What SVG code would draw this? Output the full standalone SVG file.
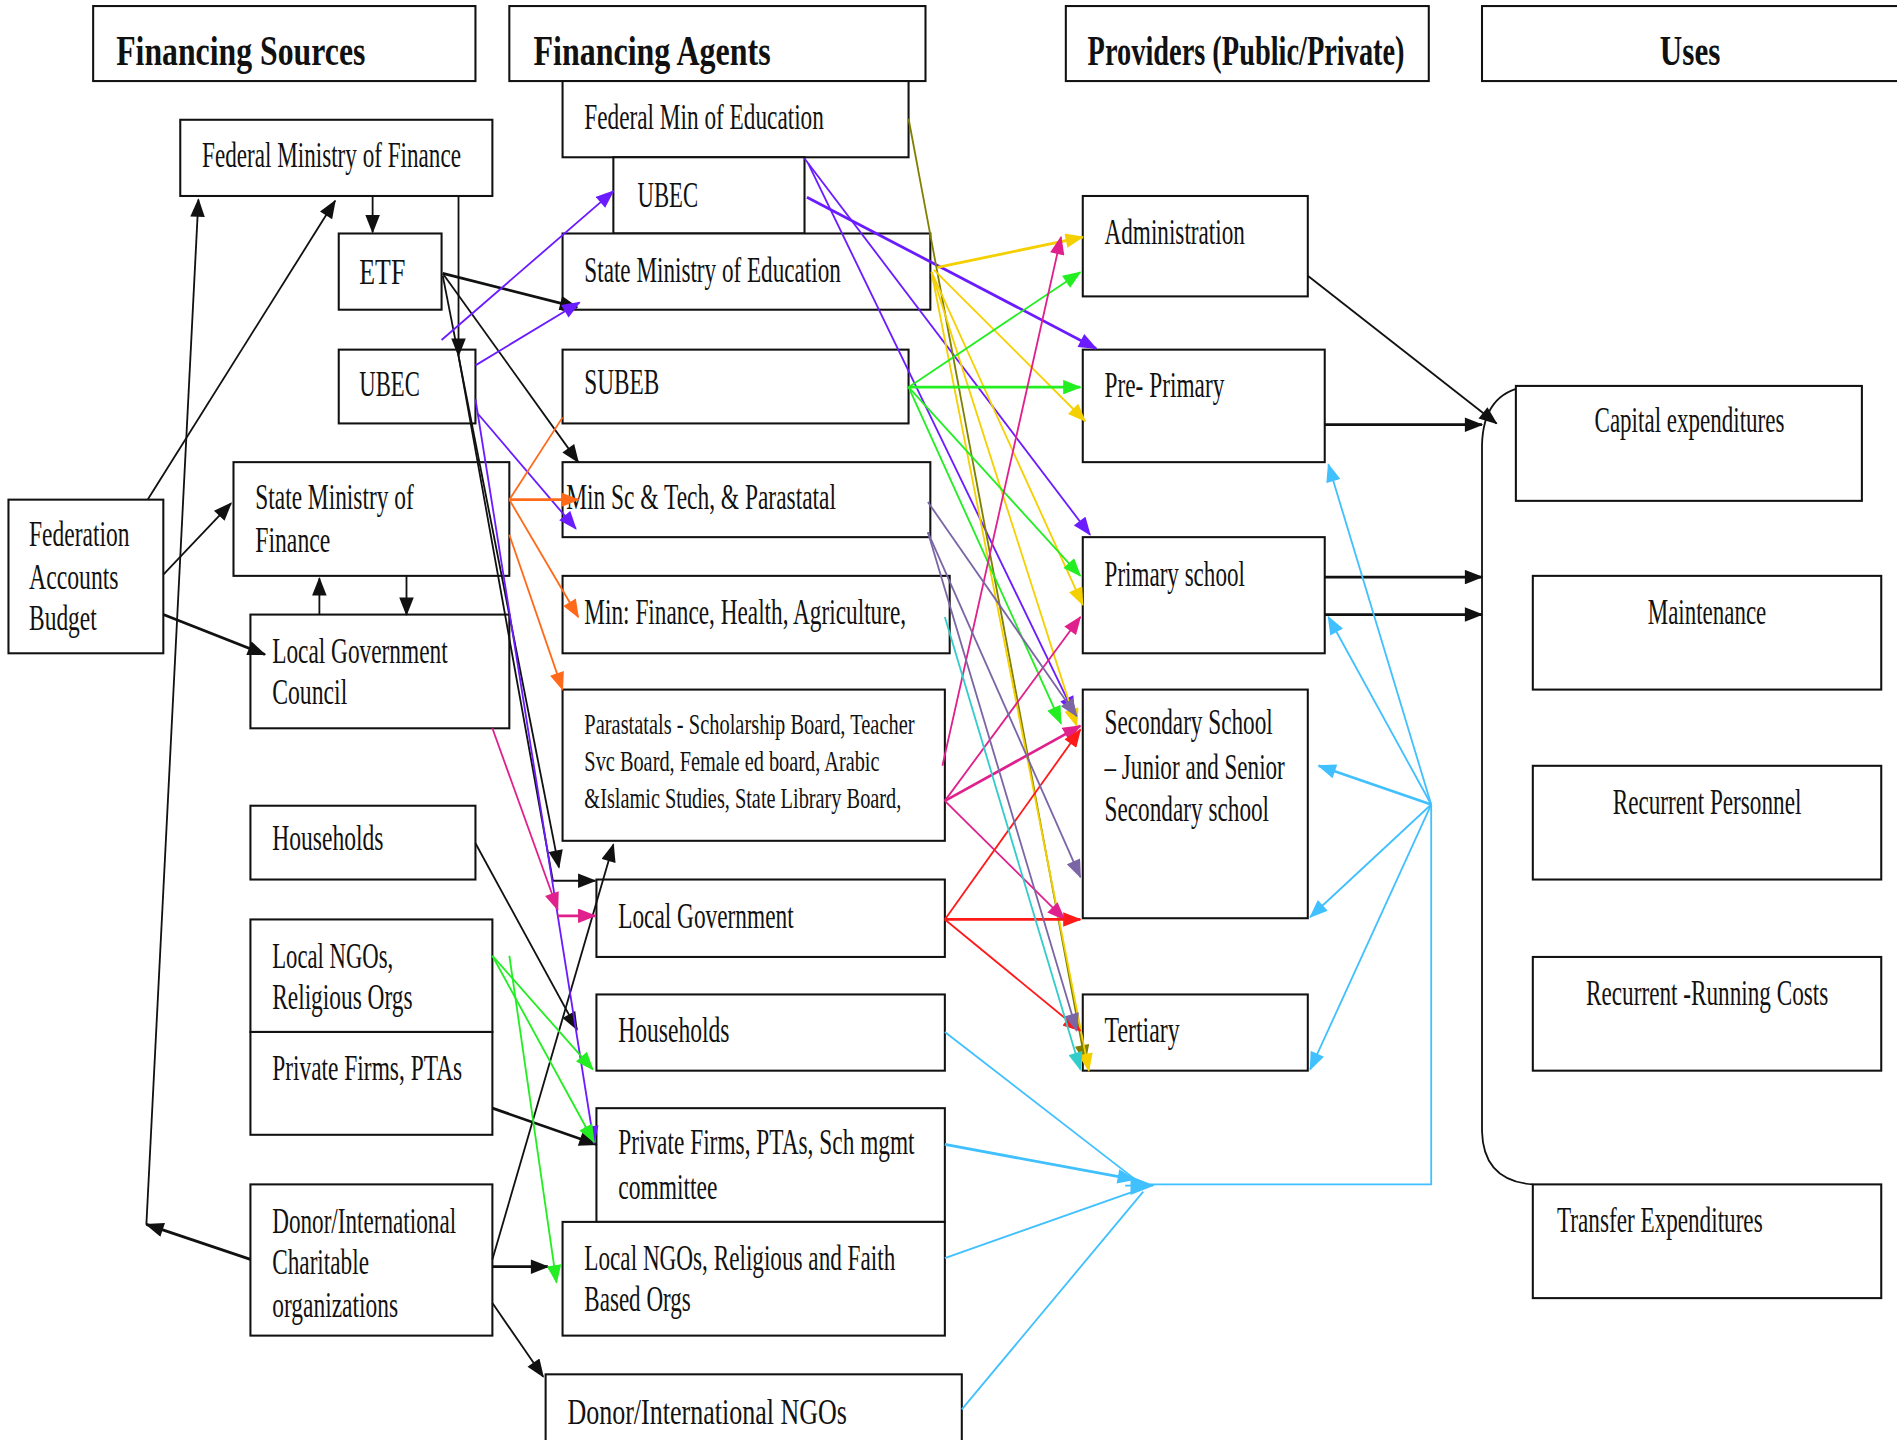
<svg xmlns="http://www.w3.org/2000/svg" width="1897" height="1440" viewBox="0 0 1897 1440">
<style>
.box{fill:#fff;stroke:#111;stroke-width:1.7}
.t{font-family:"Liberation Serif","Times New Roman",serif;font-size:29px;fill:#111}
.s{font-size:25px}
.h{font-weight:bold;font-size:34px}
.c{fill:none;stroke-width:1.5}
.k{stroke:#111;marker-end:url(#aK)}
.p{stroke:#6A1BFF;marker-end:url(#aP)}
.y{stroke:#F5D000;marker-end:url(#aY)}
.g{stroke:#22EE22;marker-end:url(#aG)}
.o{stroke:#FF6A1A;marker-end:url(#aO)}
.m{stroke:#E0208C;marker-end:url(#aM)}
.r{stroke:#FF1A1A;marker-end:url(#aR)}
.v{stroke:#7A65A5;marker-end:url(#aV)}
.tl{stroke:#33CCCC;marker-end:url(#aT)}
.b{stroke:#40C0FF;marker-end:url(#aB)}
.ol{stroke:#7F7F00;marker-end:url(#aOl)}
.w{stroke-width:2.3}
</style>
<defs>
<marker id="aK" viewBox="0 0 14 11" refX="13" refY="5.5" markerWidth="16" markerHeight="12" markerUnits="userSpaceOnUse" orient="auto"><path d="M0,0 L14,5.5 L0,11 z" fill="#111"/></marker>
<marker id="aP" viewBox="0 0 14 11" refX="13" refY="5.5" markerWidth="16" markerHeight="12" markerUnits="userSpaceOnUse" orient="auto"><path d="M0,0 L14,5.5 L0,11 z" fill="#6A1BFF"/></marker>
<marker id="aY" viewBox="0 0 14 11" refX="13" refY="5.5" markerWidth="16" markerHeight="12" markerUnits="userSpaceOnUse" orient="auto"><path d="M0,0 L14,5.5 L0,11 z" fill="#F5D000"/></marker>
<marker id="aG" viewBox="0 0 14 11" refX="13" refY="5.5" markerWidth="16" markerHeight="12" markerUnits="userSpaceOnUse" orient="auto"><path d="M0,0 L14,5.5 L0,11 z" fill="#22EE22"/></marker>
<marker id="aO" viewBox="0 0 14 11" refX="13" refY="5.5" markerWidth="16" markerHeight="12" markerUnits="userSpaceOnUse" orient="auto"><path d="M0,0 L14,5.5 L0,11 z" fill="#FF6A1A"/></marker>
<marker id="aM" viewBox="0 0 14 11" refX="13" refY="5.5" markerWidth="16" markerHeight="12" markerUnits="userSpaceOnUse" orient="auto"><path d="M0,0 L14,5.5 L0,11 z" fill="#E0208C"/></marker>
<marker id="aR" viewBox="0 0 14 11" refX="13" refY="5.5" markerWidth="16" markerHeight="12" markerUnits="userSpaceOnUse" orient="auto"><path d="M0,0 L14,5.5 L0,11 z" fill="#FF1A1A"/></marker>
<marker id="aV" viewBox="0 0 14 11" refX="13" refY="5.5" markerWidth="16" markerHeight="12" markerUnits="userSpaceOnUse" orient="auto"><path d="M0,0 L14,5.5 L0,11 z" fill="#7A65A5"/></marker>
<marker id="aT" viewBox="0 0 14 11" refX="13" refY="5.5" markerWidth="16" markerHeight="12" markerUnits="userSpaceOnUse" orient="auto"><path d="M0,0 L14,5.5 L0,11 z" fill="#33CCCC"/></marker>
<marker id="aB" viewBox="0 0 14 11" refX="13" refY="5.5" markerWidth="16" markerHeight="12" markerUnits="userSpaceOnUse" orient="auto"><path d="M0,0 L14,5.5 L0,11 z" fill="#40C0FF"/></marker>
<marker id="aBL" viewBox="0 0 14 11" refX="13" refY="5.5" markerWidth="20" markerHeight="20" markerUnits="userSpaceOnUse" orient="auto"><path d="M0,0 L14,5.5 L0,11 z" fill="#40C0FF"/></marker>
<marker id="aOl" viewBox="0 0 14 11" refX="13" refY="5.5" markerWidth="16" markerHeight="12" markerUnits="userSpaceOnUse" orient="auto"><path d="M0,0 L14,5.5 L0,11 z" fill="#7F7F00"/></marker>
</defs>
<rect width="1897" height="1440" fill="#fff"/>
<g transform="scale(1.2098)">
<g id="headers">
<g id="hdr-sources"><rect class="box" x="77" y="5" width="316" height="62"/><text class="t h" x="96" y="54" textLength="206" lengthAdjust="spacingAndGlyphs">Financing Sources</text></g>
<g id="hdr-agents"><rect class="box" x="421" y="5" width="344" height="62"/><text class="t h" x="441" y="54" textLength="196" lengthAdjust="spacingAndGlyphs">Financing Agents</text></g>
<g id="hdr-providers"><rect class="box" x="881" y="5" width="300" height="62"/><text class="t h" x="899" y="54" textLength="262" lengthAdjust="spacingAndGlyphs">Providers (Public/Private)</text></g>
<g id="hdr-uses"><rect class="box" x="1225" y="5" width="360" height="62"/><text class="t h" x="1372" y="54" textLength="50" lengthAdjust="spacingAndGlyphs">Uses</text></g>
</g>
<g id="sources">
<g id="s-fmf"><rect class="box" x="149" y="99" width="258" height="63"/><text class="t" x="167" y="138" textLength="214" lengthAdjust="spacingAndGlyphs">Federal Ministry of Finance</text></g>
<g id="s-etf"><rect class="box" x="280" y="193" width="85" height="63"/><text class="t" x="297" y="235" textLength="38" lengthAdjust="spacingAndGlyphs">ETF</text></g>
<g id="s-ubec"><rect class="box" x="280" y="289" width="113" height="61"/><text class="t" x="297" y="327" textLength="50" lengthAdjust="spacingAndGlyphs">UBEC</text></g>
<g id="s-fab"><rect class="box" x="7" y="413" width="128" height="127"/><text class="t" x="24" y="451" textLength="83" lengthAdjust="spacingAndGlyphs">Federation</text><text class="t" x="24" y="487" textLength="74" lengthAdjust="spacingAndGlyphs">Accounts</text><text class="t" x="24" y="521" textLength="56" lengthAdjust="spacingAndGlyphs">Budget</text></g>
<g id="s-smf"><rect class="box" x="193" y="382" width="228" height="94"/><text class="t" x="211" y="421" textLength="131" lengthAdjust="spacingAndGlyphs">State Ministry of</text><text class="t" x="211" y="456" textLength="62" lengthAdjust="spacingAndGlyphs">Finance</text></g>
<g id="s-lgc"><rect class="box" x="207" y="508" width="214" height="94"/><text class="t" x="225" y="548" textLength="145" lengthAdjust="spacingAndGlyphs">Local Government</text><text class="t" x="225" y="582" textLength="62" lengthAdjust="spacingAndGlyphs">Council</text></g>
<g id="s-households"><rect class="box" x="207" y="666" width="186" height="61"/><text class="t" x="225" y="703" textLength="92" lengthAdjust="spacingAndGlyphs">Households</text></g>
<g id="s-ngos"><rect class="box" x="207" y="760" width="200" height="93"/><text class="t" x="225" y="800" textLength="100" lengthAdjust="spacingAndGlyphs">Local NGOs,</text><text class="t" x="225" y="834" textLength="116" lengthAdjust="spacingAndGlyphs">Religious Orgs</text></g>
<g id="s-private"><rect class="box" x="207" y="853" width="200" height="85"/><text class="t" x="225" y="893" textLength="157" lengthAdjust="spacingAndGlyphs">Private Firms, PTAs</text></g>
<g id="s-donor"><rect class="box" x="207" y="979" width="200" height="125"/><text class="t" x="225" y="1019" textLength="152" lengthAdjust="spacingAndGlyphs">Donor/International</text><text class="t" x="225" y="1053" textLength="80" lengthAdjust="spacingAndGlyphs">Charitable</text><text class="t" x="225" y="1089" textLength="104" lengthAdjust="spacingAndGlyphs">organizations</text></g>
</g>
<g id="agents">
<g id="a-fme"><rect class="box" x="465" y="67" width="286" height="63"/><text class="t" x="483" y="107" textLength="198" lengthAdjust="spacingAndGlyphs">Federal Min of Education</text></g>
<g id="a-ubec"><rect class="box" x="507" y="130" width="158" height="63"/><text class="t" x="527" y="171" textLength="50" lengthAdjust="spacingAndGlyphs">UBEC</text></g>
<g id="a-sme"><rect class="box" x="465" y="193" width="304" height="63"/><text class="t" x="483" y="233" textLength="212" lengthAdjust="spacingAndGlyphs">State Ministry of Education</text></g>
<g id="a-subeb"><rect class="box" x="465" y="289" width="286" height="61"/><text class="t" x="483" y="326" textLength="62" lengthAdjust="spacingAndGlyphs">SUBEB</text></g>
<g id="a-minsc"><rect class="box" x="465" y="382" width="304" height="62"/><text class="t" x="468" y="421" textLength="223" lengthAdjust="spacingAndGlyphs">Min Sc &amp; Tech, &amp; Parastatal</text></g>
<g id="a-minfin"><rect class="box" x="465" y="476" width="320" height="64"/><text class="t" x="483" y="516" textLength="266" lengthAdjust="spacingAndGlyphs">Min: Finance, Health, Agriculture,</text></g>
<g id="a-para"><rect class="box" x="465" y="570" width="316" height="125"/><text class="t s" x="483" y="607" textLength="273" lengthAdjust="spacingAndGlyphs">Parastatals - Scholarship Board, Teacher</text><text class="t s" x="483" y="637" textLength="244" lengthAdjust="spacingAndGlyphs">Svc Board, Female ed board, Arabic</text><text class="t s" x="483" y="668" textLength="262" lengthAdjust="spacingAndGlyphs">&amp;Islamic Studies, State Library Board,</text></g>
<g id="a-lg"><rect class="box" x="493" y="727" width="288" height="64"/><text class="t" x="511" y="767" textLength="145" lengthAdjust="spacingAndGlyphs">Local Government</text></g>
<g id="a-households"><rect class="box" x="493" y="822" width="288" height="63"/><text class="t" x="511" y="861" textLength="92" lengthAdjust="spacingAndGlyphs">Households</text></g>
<g id="a-private"><rect class="box" x="493" y="916" width="288" height="94"/><text class="t" x="511" y="954" textLength="245" lengthAdjust="spacingAndGlyphs">Private Firms, PTAs, Sch mgmt</text><text class="t" x="511" y="991" textLength="82" lengthAdjust="spacingAndGlyphs">committee</text></g>
<g id="a-ngos"><rect class="box" x="465" y="1010" width="316" height="94"/><text class="t" x="483" y="1050" textLength="257" lengthAdjust="spacingAndGlyphs">Local NGOs, Religious and Faith</text><text class="t" x="483" y="1084" textLength="88" lengthAdjust="spacingAndGlyphs">Based Orgs</text></g>
<g id="a-donor"><rect class="box" x="451" y="1136" width="344" height="70"/><text class="t" x="469" y="1177" textLength="231" lengthAdjust="spacingAndGlyphs">Donor/International NGOs</text></g>
</g>
<g id="providers">
<g id="p-admin"><rect class="box" x="895" y="162" width="186" height="83"/><text class="t" x="913" y="202" textLength="116" lengthAdjust="spacingAndGlyphs">Administration</text></g>
<g id="p-preprimary"><rect class="box" x="895" y="289" width="200" height="93"/><text class="t" x="913" y="328" textLength="99" lengthAdjust="spacingAndGlyphs">Pre- Primary</text></g>
<g id="p-primary"><rect class="box" x="895" y="444" width="200" height="96"/><text class="t" x="913" y="484" textLength="116" lengthAdjust="spacingAndGlyphs">Primary school</text></g>
<g id="p-secondary"><rect class="box" x="895" y="570" width="186" height="189"/><text class="t" x="913" y="607" textLength="139" lengthAdjust="spacingAndGlyphs">Secondary School</text><text class="t" x="913" y="644" textLength="149" lengthAdjust="spacingAndGlyphs">– Junior and Senior</text><text class="t" x="913" y="679" textLength="136" lengthAdjust="spacingAndGlyphs">Secondary school</text></g>
<g id="p-tertiary"><rect class="box" x="895" y="822" width="186" height="63"/><text class="t" x="913" y="861" textLength="62" lengthAdjust="spacingAndGlyphs">Tertiary</text></g>
</g>
<g id="uses">
<path id="u-bracket" d="M1266,319 Q1226,322 1225,368 L1225,935 Q1226,976 1267,979" fill="none" stroke="#111" stroke-width="1.5"/>
<g id="u-capital"><rect class="box" x="1253" y="319" width="286" height="95"/><text class="t" x="1318" y="357" textLength="157" lengthAdjust="spacingAndGlyphs">Capital expenditures</text></g>
<g id="u-maint"><rect class="box" x="1267" y="476" width="288" height="94"/><text class="t" x="1362" y="516" textLength="98" lengthAdjust="spacingAndGlyphs">Maintenance</text></g>
<g id="u-personnel"><rect class="box" x="1267" y="633" width="288" height="94"/><text class="t" x="1333" y="673" textLength="156" lengthAdjust="spacingAndGlyphs">Recurrent Personnel</text></g>
<g id="u-running"><rect class="box" x="1267" y="791" width="288" height="94"/><text class="t" transform="translate(1311,831) scale(0.7,1)" x="0" y="0" textLength="286" lengthAdjust="spacingAndGlyphs">Recurrent -Running Costs</text></g>
<g id="u-transfer"><rect class="box" x="1267" y="979" width="288" height="94"/><text class="t" x="1287" y="1018" textLength="170" lengthAdjust="spacingAndGlyphs">Transfer Expenditures</text></g>
</g>
<g id="connectors">
<path class="c k" d="M122,413 L277,166"/>
<path class="c k" d="M135,475 L191,416"/>
<path class="c k w" d="M135,508 L219,541"/>
<path class="c k w" d="M207,1041 L121,1012"/>
<path class="c k" d="M121,1012 L164,165"/>
<path class="c k" d="M308,162 L308,192"/>
<path class="c k" d="M379,162 L379,294"/>
<path class="c k w" d="M366,226 L477,254"/>
<path class="c k" d="M366,226 L478,382"/>
<path class="c k" d="M366,228 L462,717"/>
<path class="c k" d="M379,294 L457,728 L492,728"/>
<path class="c k" d="M393,697 L477,851"/>
<path class="c k w" d="M407,916 L493,946"/>
<path class="c k" d="M407,1041 L507,698"/>
<path class="c k w" d="M407,1047 L453,1047"/>
<path class="c k" d="M407,1077 L449,1138"/>
<path class="c k" d="M264,508 L264,478"/>
<path class="c k" d="M336,476 L336,508"/>
<path class="c k" d="M1081,228 L1237,350"/>
<path class="c k w" d="M1095,351 L1225,351"/>
<path class="c k w" d="M1095,477 L1225,477"/>
<path class="c k w" d="M1095,508 L1225,508"/>
<path class="c p" d="M365,281 L507,158"/>
<path class="c p" d="M393,302 L479,250"/>
<path class="c p" d="M395,342 L476,437"/>
<path class="c p" d="M393,330 L491,945"/>
<path class="c p" d="M665,131 L901,442"/>
<path class="c p w" d="M667,163 L906,288"/>
<path class="c p" d="M668,135 L888,590"/>
<path class="c ol" d="M751,98 L897,878"/>
<path class="c y w" d="M775,221 L895,196"/>
<path class="c y" d="M772,223 L897,348"/>
<path class="c y" d="M770,225 L895,500"/>
<path class="c y" d="M770,225 L890,600"/>
<path class="c y" d="M770,225 L900,885"/>
<path class="c g" d="M751,320 L893,225"/>
<path class="c g w" d="M751,320 L893,320"/>
<path class="c g" d="M751,320 L893,476"/>
<path class="c g" d="M751,320 L877,598"/>
<path class="c g" d="M407,790 L490,884"/>
<path class="c g" d="M407,790 L491,944"/>
<path class="c g" d="M421,790 L460,1060"/>
<path class="c o w" d="M421,413 L478,413"/>
<path class="c o" d="M421,413 L478,510"/>
<path class="c o" d="M421,442 L465,570"/>
<path class="c" stroke="#FF6A1A" d="M421,413 L465,345"/>
<path class="c m" d="M407,602 L461,752"/>
<path class="c m w" d="M461,757 L492,757"/>
<path class="c m" d="M779,633 L877,196"/>
<path class="c m" d="M781,662 L893,510"/>
<path class="c m w" d="M781,662 L893,600"/>
<path class="c m" d="M781,662 L880,760"/>
<path class="c r" d="M781,760 L893,603"/>
<path class="c r w" d="M781,760 L893,760"/>
<path class="c r" d="M781,760 L893,852"/>
<path class="c v" d="M767,415 L890,592"/>
<path class="c v" d="M767,440 L893,725"/>
<path class="c v" d="M767,440 L890,852"/>
<path class="c tl" d="M781,510 L893,884"/>
<path class="c" stroke="#40C0FF" stroke-width="1.9" d="M781,853 L945,980"/>
<path class="c b w" d="M781,946 L938,975"/>
<path class="c" stroke="#40C0FF" stroke-width="1.9" d="M781,1040 L945,982"/>
<path class="c" stroke="#40C0FF" stroke-width="1.9" d="M795,1165 L945,985"/>
<path class="c" stroke="#40C0FF" stroke-width="1.9" marker-end="url(#aBL)" d="M930,980 L953,980"/>
<path class="c" stroke="#40C0FF" stroke-width="1.7" d="M950,979 L1183,979 L1183,665"/>
<path class="c b" d="M1183,665 L1098,384"/>
<path class="c b" d="M1183,665 L1098,510"/>
<path class="c b w" d="M1183,665 L1090,633"/>
<path class="c b" d="M1183,665 L1083,758"/>
<path class="c b" d="M1183,665 L1083,884"/>
</g>
</g>
</svg>
